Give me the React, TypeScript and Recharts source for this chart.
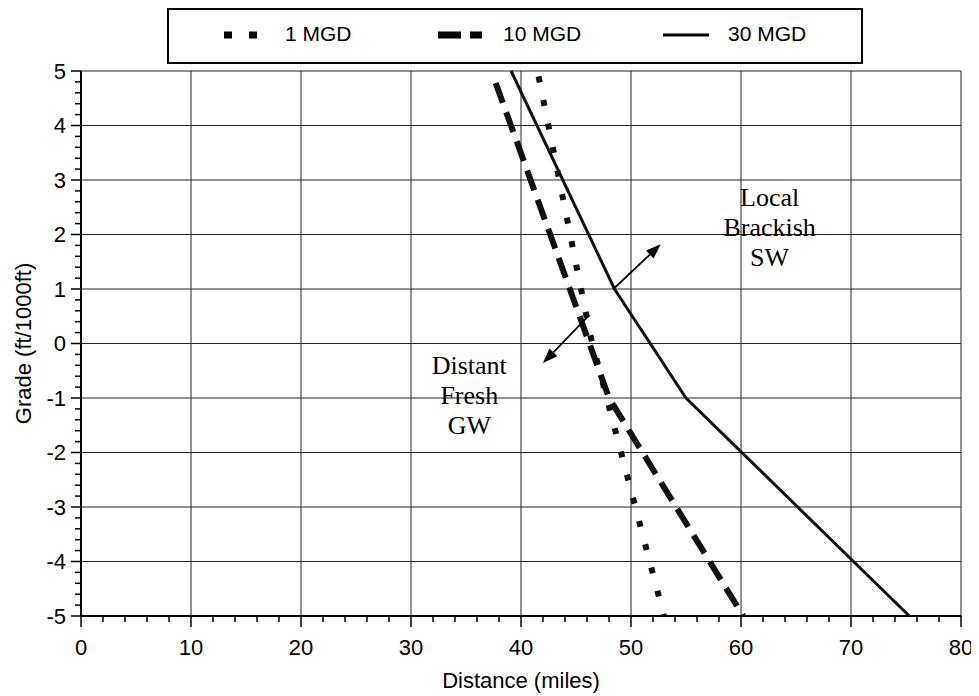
import React from "react";
import { LineChart, Line, XAxis, YAxis, CartesianGrid, ReferenceLine, ReferenceDot } from "recharts";

// Series (distance in miles vs grade in ft/1000ft)
const seriesNames = ["1 MGD", "10 MGD", "30 MGD"];

const mgd1 = [
  { x: 41.6, y: 4.9 },
  { x: 46.3, y: 0.15 },
  { x: 53.0, y: -5 },
];

const mgd10 = [
  { x: 37.7, y: 4.78 },
  { x: 48.0, y: -1 },
  { x: 60.2, y: -5 },
];

const mgd30 = [
  { x: 39.1, y: 5 },
  { x: 48.5, y: 1 },
  { x: 55.0, y: -1 },
  { x: 75.3, y: -5 },
];

const xMajor = [0, 10, 20, 30, 40, 50, 60, 70, 80];
const yMajor = [-5, -4, -3, -2, -1, 0, 1, 2, 3, 4, 5];

// minor ticks: 5 steps between majors on both axes
const withMinors = (major: number[]) => {
  const out: number[] = [];
  for (let i = 0; i < major.length - 1; i++) {
    const step = (major[i + 1] - major[i]) / 5;
    for (let k = 0; k < 5; k++) out.push(Math.round((major[i] + k * step) * 100) / 100);
  }
  out.push(major[major.length - 1]);
  return out;
};
const xTicks = withMinors(xMajor);
const yTicks = withMinors(yMajor);

// annotation arrows
const arrowOut = [{ x: 48.4, y: 1.0 }, { x: 52.7, y: 1.82 }];
const arrowIn = [{ x: 46.2, y: 0.52 }, { x: 42.0, y: -0.36 }];

const sans = "'Liberation Sans', Arial, sans-serif";
const serif = "'Liberation Serif', 'Times New Roman', serif";

const YTick = (props: any) => {
  const { x, y, payload } = props;
  const v = payload.value;
  const major = yMajor.includes(v);
  return (
    <g>
      <line x1={x} y1={y} x2={x - (major ? 10 : 6)} y2={y} stroke="#000" strokeWidth={1.5} />
      {major && (
        <text x={x - 15} y={y} textAnchor="end" dominantBaseline="central" fontSize={22} fontFamily={sans} fill="#000">
          {v}
        </text>
      )}
    </g>
  );
};

const XTick = (props: any) => {
  const { x, y, payload } = props;
  const v = payload.value;
  const major = xMajor.includes(v);
  return (
    <g>
      <line x1={x} y1={y} x2={x} y2={y + (major ? 11 : 6)} stroke="#000" strokeWidth={1.5} />
      {major && (
        <text x={x} y={y + 31} textAnchor="middle" dominantBaseline="central" fontSize={22} fontFamily={sans} fill="#000">
          {v}
        </text>
      )}
    </g>
  );
};

const Arrow = (props: any) => {
  const { x1, y1, x2, y2 } = props;
  const ang = Math.atan2(y2 - y1, x2 - x1);
  const len = 15;
  const hw = 5.5;
  const bx = x2 - len * Math.cos(ang);
  const by = y2 - len * Math.sin(ang);
  const px = -Math.sin(ang) * hw;
  const py = Math.cos(ang) * hw;
  return (
    <g>
      <line x1={x1} y1={y1} x2={bx} y2={by} stroke="#000" strokeWidth={1.8} />
      <polygon points={`${x2},${y2} ${bx + px},${by + py} ${bx - px},${by - py}`} fill="#000" />
    </g>
  );
};

const multiLine = (lines: string[]) => (props: any) => {
  const { cx, cy } = props;
  const lh = 30;
  const y0 = cy - ((lines.length - 1) * lh) / 2;
  return (
    <text textAnchor="middle" fontSize={26} fontFamily={serif} fill="#000">
      {lines.map((t, i) => (
        <tspan key={t} x={cx} y={y0 + i * lh} dominantBaseline="central">
          {t}
        </tspan>
      ))}
    </text>
  );
};

const legendIcons = [
  <svg width={34} height={10}><line x1={0} y1={5} x2={34} y2={5} stroke="#000" strokeWidth={7} strokeDasharray="8 17" /></svg>,
  <svg width={44} height={10}><line x1={0} y1={5} x2={44} y2={5} stroke="#000" strokeWidth={7} strokeDasharray="23 9" /></svg>,
  <svg width={46} height={10}><line x1={0} y1={5} x2={46} y2={5} stroke="#000" strokeWidth={3} /></svg>,
];
const legendIconLeft = [57, 271, 496];
const legendTextLeft = [118, 336, 561];

export default function App() {
  return (
    <div style={{ position: "relative", width: 971, height: 688 }}>
      <LineChart width={971} height={688} margin={{ top: 63, right: 18, left: 0, bottom: 8 }}>
        <CartesianGrid stroke="#222" strokeWidth={1} horizontalValues={yMajor} verticalValues={xMajor} />
        <XAxis
          type="number"
          dataKey="x"
          domain={[0, 80]}
          ticks={xTicks}
          interval={0}
          height={72}
          tickSize={0}
          tickMargin={0}
          tick={<XTick />}
          axisLine={{ stroke: "#000", strokeWidth: 2 }}
          label={{ value: "Distance (miles)", position: "center", dy: 28, fontSize: 22, fontFamily: sans, fill: "#000" }}
        />
        <YAxis
          type="number"
          domain={[-5, 5]}
          ticks={yTicks}
          interval={0}
          width={73}
          tickSize={0}
          tickMargin={0}
          tick={<YTick />}
          axisLine={{ stroke: "#000", strokeWidth: 2 }}
          label={{ value: "Grade (ft/1000ft)", angle: -90, position: "center", dx: -21, fontSize: 22, fontFamily: sans, fill: "#000" }}
        />
        <Line data={mgd1} dataKey="y" name={seriesNames[0]} stroke="#111" strokeWidth={6} strokeDasharray="6 18" dot={false} isAnimationActive={false} />
        <Line data={mgd10} dataKey="y" name={seriesNames[1]} stroke="#111" strokeWidth={6} strokeDasharray="21 10" dot={false} isAnimationActive={false} />
        <Line data={mgd30} dataKey="y" name={seriesNames[2]} stroke="#111" strokeWidth={3} dot={false} isAnimationActive={false} />
        <ReferenceLine segment={arrowOut} shape={Arrow} />
        <ReferenceLine segment={arrowIn} shape={Arrow} />
        <ReferenceDot x={35.3} y={-0.95} r={0} shape={multiLine(["Distant", "Fresh", "GW"])} />
        <ReferenceDot x={62.6} y={2.13} r={0} shape={multiLine(["Local", "Brackish", "SW"])} />
      </LineChart>
      <div
        style={{
          position: "absolute",
          left: 159,
          top: 0,
          width: 696,
          height: 56,
          boxSizing: "border-box",
          border: "2px solid #000",
          background: "#fff",
        }}
      >
        {seriesNames.map((name, i) => (
          <React.Fragment key={name}>
            <div style={{ position: "absolute", left: legendIconLeft[i] - 2, top: 20, lineHeight: 0 }}>{legendIcons[i]}</div>
            <div style={{ position: "absolute", left: legendTextLeft[i] - 2, top: 12, fontFamily: sans, fontSize: 21, lineHeight: "24px" }}>
              {name}
            </div>
          </React.Fragment>
        ))}
      </div>
    </div>
  );
}
